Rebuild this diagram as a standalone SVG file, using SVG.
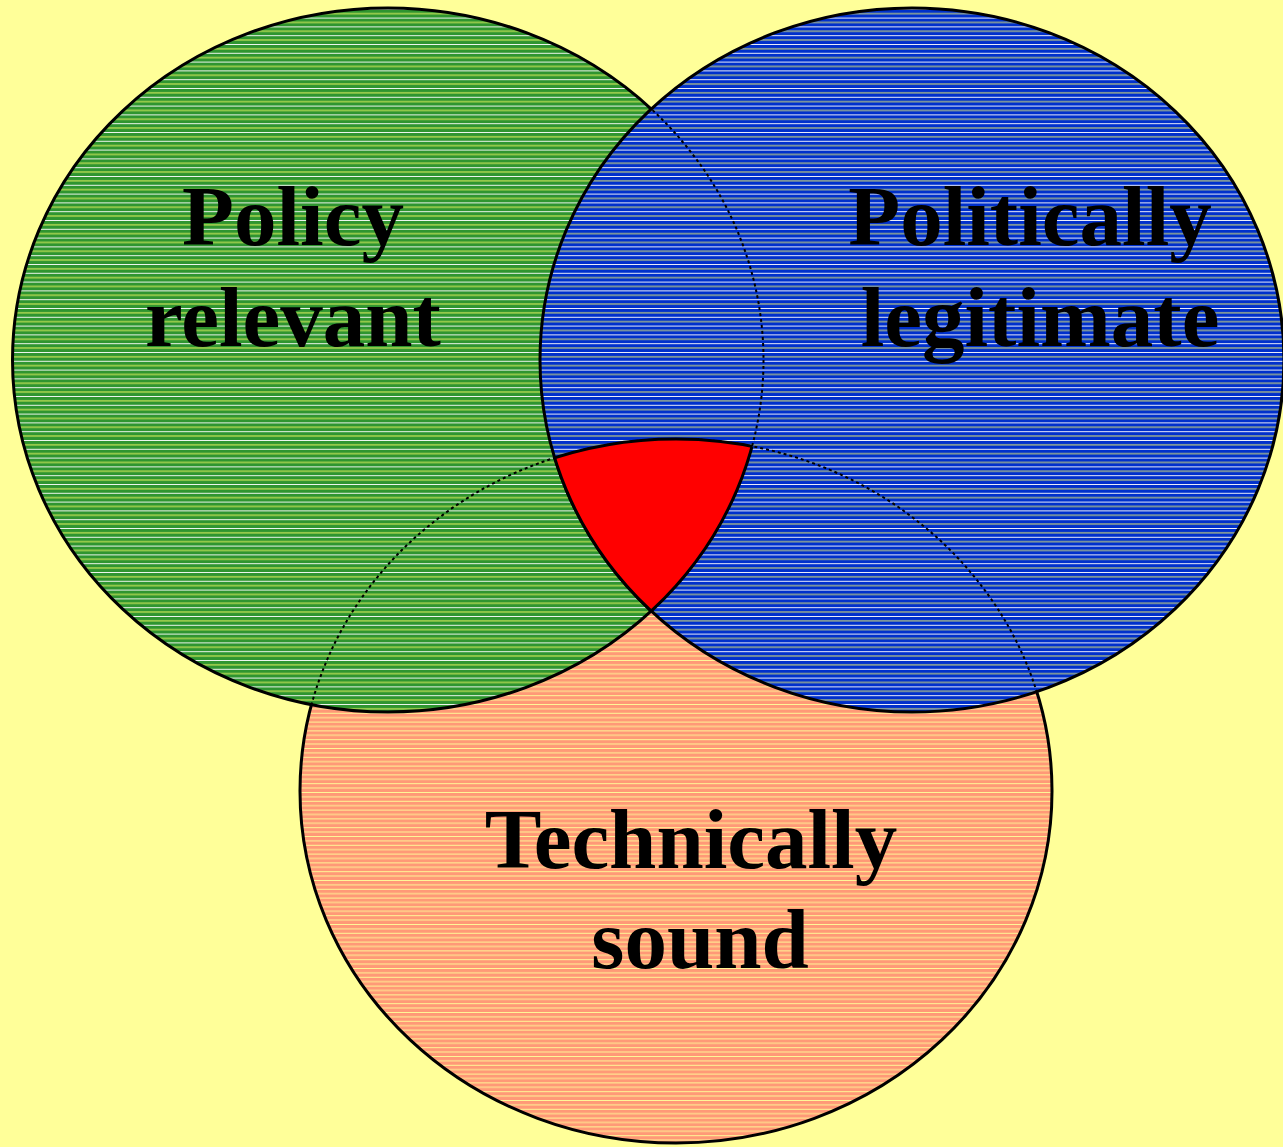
<svg xmlns="http://www.w3.org/2000/svg" width="1283" height="1147" viewBox="0 0 1283 1147">
  <style>
    .lbl { font-family: "Liberation Serif", "Times New Roman", serif; font-weight: bold; font-size: 85px; fill: #000; text-anchor: middle; }
    .edge { fill: none; stroke: #000; stroke-width: 3; }
    .dash { fill: none; stroke: #000; stroke-width: 2; stroke-dasharray: 3 3; }
  </style>
  <defs>
    <pattern id="pGreen" patternUnits="userSpaceOnUse" width="20" height="8.8">
      <rect width="20" height="8.8" fill="#2F9530"/>
      <rect y="0" width="20" height="0.9" fill="#FFFFFF"/>
      <rect y="4.4" width="20" height="0.9" fill="#FFFF66"/>
    </pattern>
    <pattern id="pBlue" patternUnits="userSpaceOnUse" width="20" height="8.8">
      <rect width="20" height="8.8" fill="#0030CC"/>
      <rect y="0" width="20" height="0.9" fill="#FFFFFF"/>
      <rect y="4.4" width="20" height="0.9" fill="#FFFF66"/>
    </pattern>
    <pattern id="pSalmon" patternUnits="userSpaceOnUse" width="20" height="8.8">
      <rect width="20" height="8.8" fill="#FF9977"/>
      <rect y="0" width="20" height="0.9" fill="#FFFF99"/>
      <rect y="4.4" width="20" height="0.9" fill="#FFFF99"/>
    </pattern>
    <clipPath id="cG"><ellipse cx="388" cy="360" rx="375.5" ry="352"/></clipPath>
    <clipPath id="cB"><ellipse cx="912" cy="360" rx="372" ry="352"/></clipPath>
    <clipPath id="cS"><ellipse cx="676" cy="791" rx="376" ry="352"/></clipPath>
    <clipPath id="cGB">
      <ellipse cx="388" cy="360" rx="375.5" ry="352"/>
      <ellipse cx="912" cy="360" rx="372" ry="352"/>
    </clipPath>
  </defs>

  <rect width="1283" height="1147" fill="#FFFF99"/>

  <g id="technically-sound">
    <ellipse cx="676" cy="791" rx="376" ry="352" class="edge" style="fill:url(#pSalmon)"/>
  </g>
  <g id="policy-relevant">
    <ellipse cx="388" cy="360" rx="375.5" ry="352" class="edge" style="fill:url(#pGreen)"/>
  </g>
  <g id="politically-legitimate">
    <ellipse cx="912" cy="360" rx="372" ry="352" class="edge" style="fill:url(#pBlue)"/>
  </g>

  <g id="hidden-outlines">
    <g clip-path="url(#cGB)">
      <ellipse cx="676" cy="791" rx="376" ry="352" class="dash"/>
    </g>
    <g clip-path="url(#cB)">
      <ellipse cx="388" cy="360" rx="375.5" ry="352" class="dash"/>
    </g>
  </g>

  <g id="intersection">
    <g clip-path="url(#cG)">
      <g clip-path="url(#cB)">
        <ellipse cx="676" cy="791" rx="376" ry="352" fill="#FF0000"/>
      </g>
    </g>
    <g clip-path="url(#cG)">
      <g clip-path="url(#cB)">
        <ellipse cx="676" cy="791" rx="376" ry="352" class="edge"/>
      </g>
    </g>
    <g clip-path="url(#cS)">
      <g clip-path="url(#cB)">
        <ellipse cx="388" cy="360" rx="375.5" ry="352" class="edge"/>
      </g>
    </g>
    <g clip-path="url(#cS)">
      <g clip-path="url(#cG)">
        <ellipse cx="912" cy="360" rx="372" ry="352" class="edge"/>
      </g>
    </g>
  </g>

  <g id="labels">
    <text class="lbl" x="293" y="245">Policy</text>
    <text class="lbl" x="293" y="346">relevant</text>
    <text class="lbl" x="1030" y="245">Politically</text>
    <text class="lbl" x="1040" y="346">legitimate</text>
    <text class="lbl" x="691" y="868">Technically</text>
    <text class="lbl" x="700" y="968">sound</text>
  </g>
</svg>
